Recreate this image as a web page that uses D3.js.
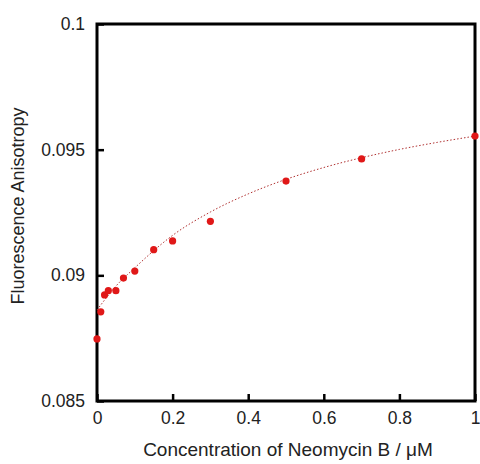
<!DOCTYPE html>
<html>
<head>
<meta charset="utf-8">
<script src="https://cdn.jsdelivr.net/npm/d3@7"></script>
<style>
  body { margin: 0; background: #fff; }
  svg text { font-family: "Liberation Sans", Arial, sans-serif; fill: #222; }
</style>
</head>
<body>
<div id="chart"></div>
<script>
// measured points
var conc = [0, 0.01, 0.02, 0.03, 0.05, 0.07, 0.1, 0.15, 0.2, 0.3, 0.5, 0.7, 1.0];
var aniso = [0.08747, 0.08855, 0.08922, 0.08939, 0.08939, 0.08989, 0.09017,
             0.09102, 0.09137, 0.09215, 0.09375, 0.09463, 0.09554];

// fitted curve
var fitX = [0, 0.05, 0.1, 0.2, 0.3, 0.4, 0.5, 0.6, 0.7, 0.8, 0.9, 1.0];
var fitY = [0.08862, 0.08957, 0.09030, 0.09159, 0.09252, 0.09324, 0.09382,
            0.09429, 0.09468, 0.09501, 0.09529, 0.09554];

var xTicks = [0, 0.2, 0.4, 0.6, 0.8, 1];
var yTicks = [0.085, 0.09, 0.095, 0.1];

var w = 480, h = 464;
var pLeft = 97, pRight = 475, pTop = 24, pBottom = 401;

var svg = d3.select("#chart")
    .append("svg")
    .attr("width", w)
    .attr("height", h);

var x = d3.scaleLinear().domain([0, 1]).range([pLeft, pRight]);
var y = d3.scaleLinear().domain([0.085, 0.1]).range([pBottom, pTop]);

//axes with inward ticks
var xAxis = d3.axisBottom(x)
    .tickValues(xTicks)
    .tickFormat(function(d) { return "" + (+d.toFixed(1)); })
    .tickSizeInner(-7)
    .tickSizeOuter(0)
    .tickPadding(11);

var yAxis = d3.axisLeft(y)
    .tickValues(yTicks)
    .tickFormat(function(d) { return "" + (+d.toFixed(3)); })
    .tickSizeInner(-7)
    .tickSizeOuter(0)
    .tickPadding(12);

var gx = svg.append("g")
    .attr("transform", "translate(0," + pBottom + ")")
    .call(xAxis);
var gy = svg.append("g")
    .attr("transform", "translate(" + pLeft + ",0)")
    .call(yAxis);

[gx, gy].forEach(function(g) {
    g.select(".domain").remove();
    g.selectAll(".tick line").attr("stroke", "#000").attr("stroke-width", 2.5);
    g.selectAll(".tick text")
        .style("font-family", "'Liberation Sans', Arial, sans-serif")
        .style("font-size", "17.5px")
        .attr("fill", "#222");
});

// frame
svg.append("rect")
    .attr("x", pLeft)
    .attr("y", pTop)
    .attr("width", pRight - pLeft)
    .attr("height", pBottom - pTop)
    .attr("fill", "none")
    .attr("stroke", "#000")
    .attr("stroke-width", 3);

// fit line
var line = d3.line()
    .x(function(d, i) { return x(fitX[i]); })
    .y(function(d) { return y(d); })
    .curve(d3.curveMonotoneX);

svg.append("path")
    .datum(fitY)
    .attr("d", line)
    .attr("fill", "none")
    .attr("stroke", "#b03030")
    .attr("stroke-width", 1)
    .attr("stroke-dasharray", "1.5,2");

// points
svg.append("g")
    .selectAll("circle")
    .data(aniso)
    .enter()
    .append("circle")
    .attr("cx", function(d, i) { return x(conc[i]); })
    .attr("cy", function(d) { return y(d); })
    .attr("r", 3.6)
    .attr("fill", "#e01818");

// titles
svg.append("text")
    .attr("x", (pLeft + pRight) / 2 + 2)
    .attr("y", 456)
    .attr("text-anchor", "middle")
    .style("font-size", "19px")
    .text("Concentration of Neomycin B / \u03BCM");

svg.append("text")
    .attr("transform", "translate(24,206) rotate(-90)")
    .attr("text-anchor", "middle")
    .style("font-size", "18px")
    .text("Fluorescence Anisotropy");
</script>
</body>
</html>
